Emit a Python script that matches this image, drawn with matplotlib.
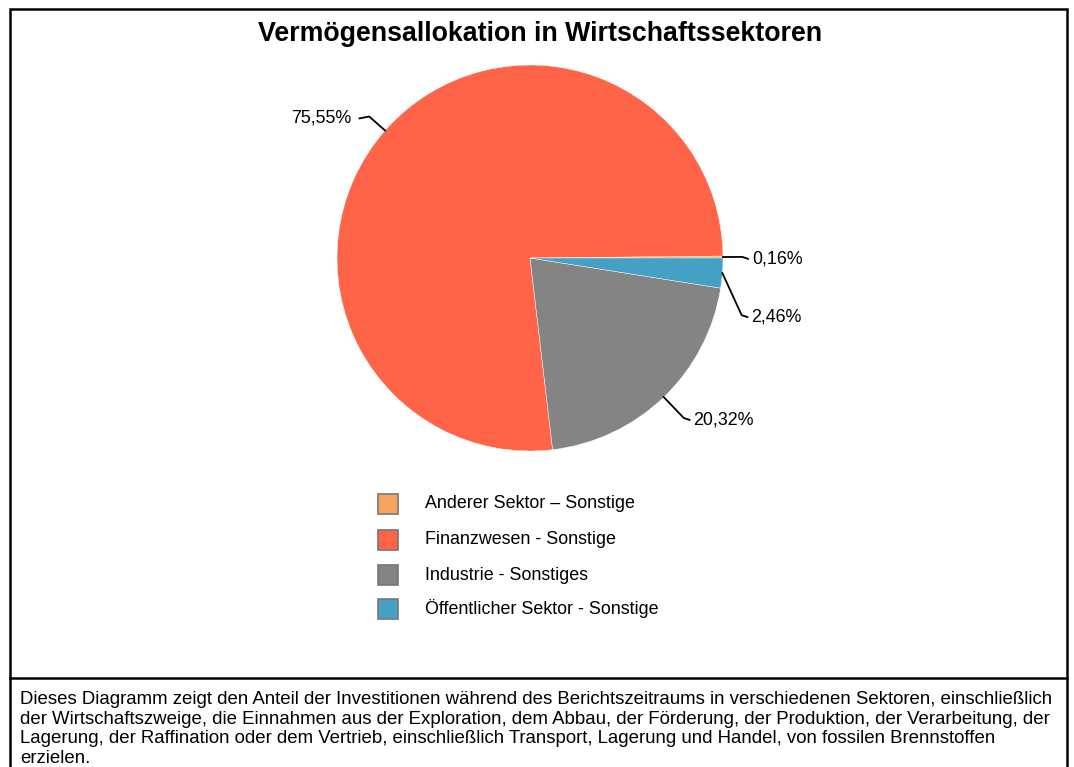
"""
Vermögensallokation in Wirtschaftssektoren - Kreisdiagramm
"""
import numpy as np
import matplotlib.pyplot as plt
from matplotlib.patches import Rectangle
from matplotlib.lines import Line2D

plt.rcParams['font.family'] = ['Liberation Sans', 'DejaVu Sans']

# Daten
sektoren = ['Anderer Sektor – Sonstige', 'Finanzwesen - Sonstige',
            'Industrie - Sonstiges', 'Öffentlicher Sektor - Sonstige']
anteile = [0.16, 75.55, 20.32, 2.46]
farben = ['#F8A35E', '#FF6449', '#848484', '#45A1C4']
titel = 'Vermögensallokation in Wirtschaftssektoren'
fussnote = ('Dieses Diagramm zeigt den Anteil der Investitionen während des Berichtszeitraums in verschiedenen Sektoren, einschließlich\n'
            'der Wirtschaftszweige, die Einnahmen aus der Exploration, dem Abbau, der Förderung, der Produktion, der Verarbeitung, der\n'
            'Lagerung, der Raffination oder dem Vertrieb, einschließlich Transport, Lagerung und Handel, von fossilen Brennstoffen\n'
            'erzielen.')

# Abstand des Knicks (in Radien) und Verschiebung nach unten, damit sich nichts überlappt
label_abstand = [1.10, 1.11, 1.15, 1.10]
label_versatz = [0.0, 0.0, 0.0, 0.21]

W, H = 1074, 767
fig = plt.figure(figsize=(W / 100, H / 100), dpi=100)


def fx(px):
    return px / W


def fy(py):
    return 1 - py / H


# Rahmen
fig.add_artist(Rectangle((fx(10), fy(800)), fx(1067) - fx(10), fy(9) - fy(800),
                         transform=fig.transFigure, fill=False, lw=1.8, ec='black'))
fig.add_artist(Line2D([fx(10), fx(1067)], [fy(677.5), fy(677.5)],
                      transform=fig.transFigure, lw=1.8, color='black'))

fig.text(fx(540), fy(34), titel, ha='center', va='center',
         fontsize=19.3, fontweight='bold')

# Kreis
cx, cy, r = 530, 258, 193
ax = fig.add_axes([fx(cx - r), fy(cy + r), (2 * r) / W, (2 * r) / H])
wedges, _ = ax.pie(anteile, colors=farben, startangle=0, counterclock=True,
                   wedgeprops=dict(linewidth=0.3, edgecolor='white'))
ax.set_xlim(-1, 1)
ax.set_ylim(-1, 1)
ax.set_aspect('equal')
ax.axis('off')

# Beschriftungen mit Verbindungslinien
for w, wert, dist, dy in zip(wedges, anteile, label_abstand, label_versatz):
    mid = np.deg2rad((w.theta1 + w.theta2) / 2)
    c, s = np.cos(mid), np.sin(mid)
    seite = 1 if c >= 0 else -1
    p0 = (c, s)
    p1 = (c * dist, s * dist - dy)
    laenge = 0.03 if seite > 0 else 0.05
    luecke = 0.02 if seite > 0 else 0.04
    p2 = (p1[0] + seite * laenge, p1[1] - 0.01)
    ax.plot([p0[0], p1[0], p2[0]], [p0[1], p1[1], p2[1]], color='black',
            lw=1.3, clip_on=False)
    txt = f'{wert:.2f}%'.replace('.', ',')
    ax.text(p2[0] + seite * luecke, p2[1], txt, ha='left' if seite > 0 else 'right',
            va='center', fontsize=12.9, clip_on=False)

# Legende
legende_y = [504, 540, 575, 609]
for name, farbe, ly in zip(sektoren, farben, legende_y):
    fig.add_artist(Rectangle((fx(378), fy(ly + 10)), 20 / W, 20 / H,
                             transform=fig.transFigure, fc=farbe,
                             ec='#777777', lw=1.2))
    fig.text(fx(425), fy(ly), name, ha='left', va='center', fontsize=12.9)

fig.text(fx(20), fy(691), fussnote, ha='left', va='top', fontsize=13.4,
         linespacing=1.2)

fig.savefig('out.png', dpi=100)
